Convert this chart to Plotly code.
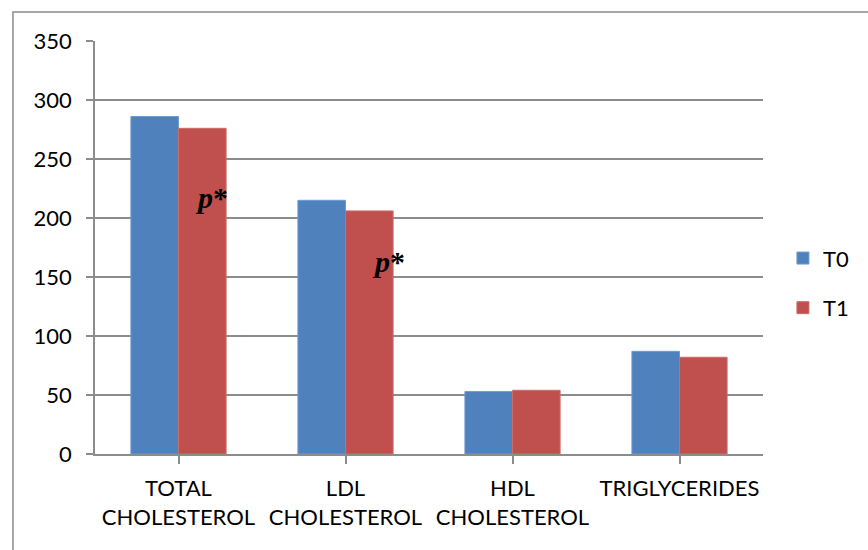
import plotly.graph_objects as go

categories = ["TOTAL<br>CHOLESTEROL", "LDL<br>CHOLESTEROL", "HDL<br>CHOLESTEROL", "TRIGLYCERIDES"]
t0_values = [286, 215, 53, 87]
t1_values = [276, 206, 54, 82]
series_names = ["T0", "T1"]
annot_text = "<b><i>p</i>*</b>"
annot_pos = [(0.2, 217), (1.26, 163)]

FONT = "Lato"
GRID = "#8c8c8c"

fig = go.Figure()
fig.add_trace(go.Bar(x=list(range(4)), y=t0_values, name=series_names[0],
                     marker=dict(color="#4F81BD", line=dict(color="#6f9bd0", width=1)),
                     legendgroup="a"))
fig.add_trace(go.Bar(x=list(range(4)), y=t1_values, name=series_names[1],
                     marker=dict(color="#C0504D", line=dict(color="#d06b68", width=1)),
                     legendgroup="b"))

for x, y in annot_pos:
    fig.add_annotation(x=x, y=y, xref="x", yref="y", text=annot_text, showarrow=False,
                       font=dict(family="Liberation Serif", size=30, color="black"))

# outer chart border
fig.add_shape(type="rect", xref="paper", yref="paper", x0=-0.1228, x1=1.3, y0=-0.3, y1=1.070,
              line=dict(color="#8c8c8c", width=1.5), fillcolor="rgba(0,0,0,0)", layer="below")

fig.update_layout(
    width=868, height=550,
    margin=dict(l=95, r=105, t=41, b=96, autoexpand=False),
    paper_bgcolor="white", plot_bgcolor="white",
    barmode="group", bargap=0.43, bargroupgap=0,
    font=dict(family=FONT, size=22, color="black"),
    showlegend=True,
    legend=dict(xref="container", yref="container", x=0.902, y=0.485,
                xanchor="left", yanchor="middle",
                traceorder="grouped", tracegroupgap=18,
                font=dict(family=FONT, size=22), bgcolor="rgba(0,0,0,0)"),
    xaxis=dict(tickmode="array", tickvals=list(range(4)), ticktext=categories,
               range=[-0.5, 3.5], showline=True, linecolor=GRID, linewidth=1.5,
               ticks="outside", ticklen=8, tickcolor=GRID, tickwidth=1.5,
               tickson="boundaries", showgrid=False, ticklabelstandoff=6),
    yaxis=dict(range=[0, 350], dtick=50, showgrid=True, gridcolor=GRID, gridwidth=1.5,
               showline=True, linecolor=GRID, linewidth=1.5, ticks="outside", ticklen=7,
               tickcolor=GRID, tickwidth=1.5, zeroline=False, ticklabelstandoff=10),
)

fig.write_html("out.html", config={"displayModeBar": False},
               post_script="document.body.style.margin='0';")
